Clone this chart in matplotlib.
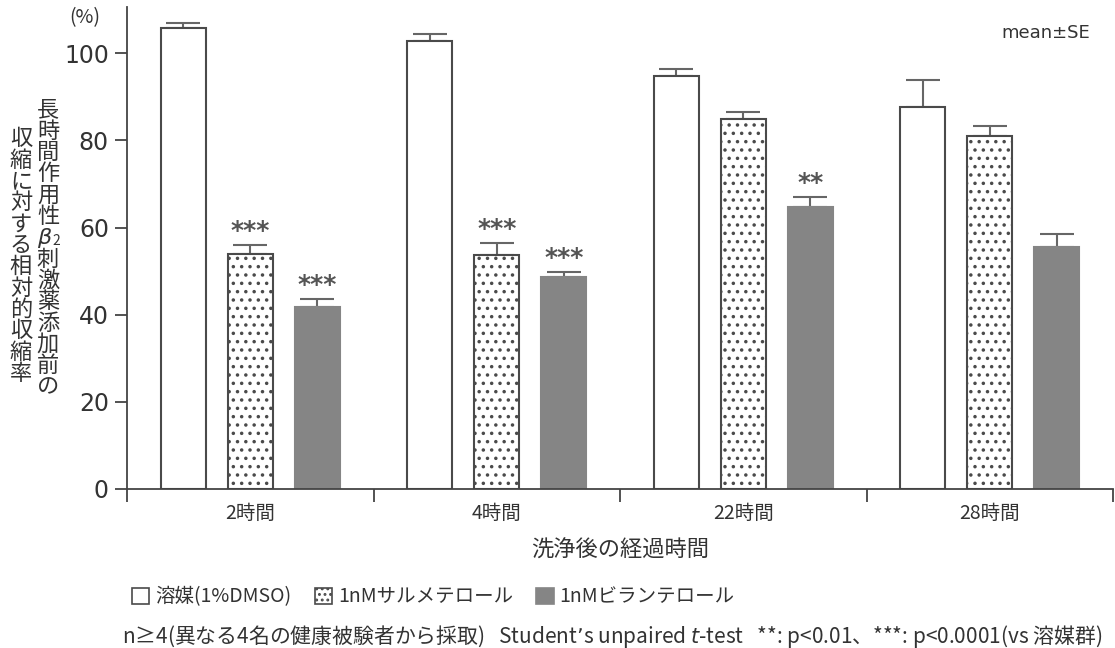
import matplotlib
matplotlib.use("Agg")
import matplotlib.pyplot as plt
import matplotlib.patches as mpatches
import numpy as np

plt.rcParams['font.family'] = ['Noto Sans CJK JP', 'DejaVu Sans']
plt.rcParams['hatch.linewidth'] = 1.3

categories = ["2時間", "4時間", "22時間", "28時間"]
series_names = ["溶媒(1%DMSO)", "1nMサルメテロール", "1nMビランテロール"]
vehicle = [105.8, 102.8, 94.7, 87.6]
vehicle_se = [1.2, 1.6, 1.6, 6.2]
salmeterol = [54.0, 53.8, 84.8, 80.9]
salmeterol_se = [2.1, 2.7, 1.6, 2.3]
vilanterol = [41.7, 48.7, 64.6, 55.6]
vilanterol_se = [2.0, 1.2, 2.5, 2.8]
sig_salmeterol = ["***", "***", "", ""]
sig_vilanterol = ["***", "***", "**", ""]
yticks = [0, 20, 40, 60, 80, 100]

W, H = 1115, 648
fig = plt.figure(figsize=(W / 100, H / 100), dpi=100)
ax = fig.add_axes([127 / W, 1 - 489 / H, (1113 - 127) / W, (489 - 7) / H])

edge = "#4a4a4a"
txt = "#333333"
x = np.arange(len(categories))
bw = 0.183
off = 0.272
styles = [dict(facecolor="white", hatch=None),
          dict(facecolor="white", hatch=".."),
          dict(facecolor="#858585", hatch=None)]
data = [(vehicle, vehicle_se), (salmeterol, salmeterol_se), (vilanterol, vilanterol_se)]
for i, ((vals, se), st) in enumerate(zip(data, styles)):
    ec = edge if i < 2 else "#858585"
    ax.bar(x + (i - 1) * off, vals, width=bw, facecolor=st["facecolor"],
           edgecolor=ec, hatch=st["hatch"], linewidth=1.5, zorder=2)
    ax.errorbar(x + (i - 1) * off, vals, yerr=[np.zeros(len(se)), se], fmt="none",
                ecolor="#666666", elinewidth=1.5, capsize=12.5, capthick=1.5, zorder=1)

for sigs, vals, se, k in [(sig_salmeterol, salmeterol, salmeterol_se, 0),
                          (sig_vilanterol, vilanterol, vilanterol_se, 1)]:
    for j, s in enumerate(sigs):
        if s:
            ax.text(x[j] + k * off, vals[j] + se[j] + 0.3, s, ha="center", va="bottom",
                    fontsize=18, fontweight="bold", color="#555555", family="DejaVu Sans")

ax.set_xlim(-0.5, len(categories) - 0.5)
ax.set_ylim(0, 110.6)
ax.set_yticks(yticks)
ax.set_yticklabels([str(t) for t in yticks], fontsize=17, color=txt, family="DejaVu Sans")
ax.set_xticks(np.arange(-0.5, len(categories)), labels=[""] * (len(categories) + 1))
ax.set_xticks(x, labels=categories, minor=True)
ax.tick_params(axis="x", which="minor", length=0, labelsize=14, pad=10, labelcolor=txt)
ax.tick_params(axis="x", which="major", length=9, width=1.3, color="#444444", direction="out")
ax.tick_params(axis="y", length=9, width=1.3, color="#444444", pad=4)
for s in ["top", "right"]:
    ax.spines[s].set_visible(False)
for s in ["left", "bottom"]:
    ax.spines[s].set_linewidth(1.3)
    ax.spines[s].set_color("#444444")

ax.set_xlabel("洗浄後の経過時間", fontsize=16, labelpad=11, color=txt)

# y label: vertical, two columns
col_r = ["長", "時", "間", "作", "用", "性", "β₂", "刺", "激", "薬", "添", "加", "前", "の"]
col_l = ["収", "縮", "に", "対", "す", "る", "相", "対", "的", "収", "縮", "率"]
step = 21.3
for k, ch in enumerate(col_r):
    yy = 110 + k * step
    if ch == "β₂":
        fig.text(44 / W, 1 - yy / H, "β", fontsize=16, style="italic", ha="center", va="center",
                 color=txt, family="DejaVu Sans")
        fig.text(56 / W, 1 - (yy + 3) / H, "2", fontsize=10, ha="center", va="center", color=txt)
    else:
        fig.text(48 / W, 1 - yy / H, ch, fontsize=16, ha="center", va="center", color=txt)
for k, ch in enumerate(col_l):
    yy = 139 + k * step
    fig.text(21 / W, 1 - yy / H, ch, fontsize=16, ha="center", va="center", color=txt)

fig.text(85 / W, 1 - 18 / H, "(%)", fontsize=14, ha="center", va="center", color=txt)
fig.text(1046 / W, 1 - 33 / H, "mean±SE", fontsize=13, ha="center", va="center", color=txt,
         family="DejaVu Sans")

handles = [mpatches.Patch(facecolor="white", edgecolor=edge, linewidth=1.2),
           mpatches.Patch(facecolor="white", edgecolor=edge, hatch="...", linewidth=1.2),
           mpatches.Patch(facecolor="#858585", edgecolor="#858585", linewidth=1.2)]
fig.legend(handles, series_names, loc="center left", bbox_to_anchor=(122 / W, 1 - 597 / H),
           ncol=3, frameon=False, fontsize=14, handlelength=0.9, handleheight=0.9,
           handletextpad=0.3, columnspacing=1.2, borderpad=0, labelcolor=txt)

fig.text(122 / W, 1 - 636 / H,
         "n≥4(異なる4名の健康被験者から採取)   Student’s unpaired $\\it{t}$-test   **: p<0.01、***: p<0.0001(vs 溶媒群)",
         fontsize=15, ha="left", va="center", color=txt)

fig.savefig("out.png", dpi=100, facecolor="white")
